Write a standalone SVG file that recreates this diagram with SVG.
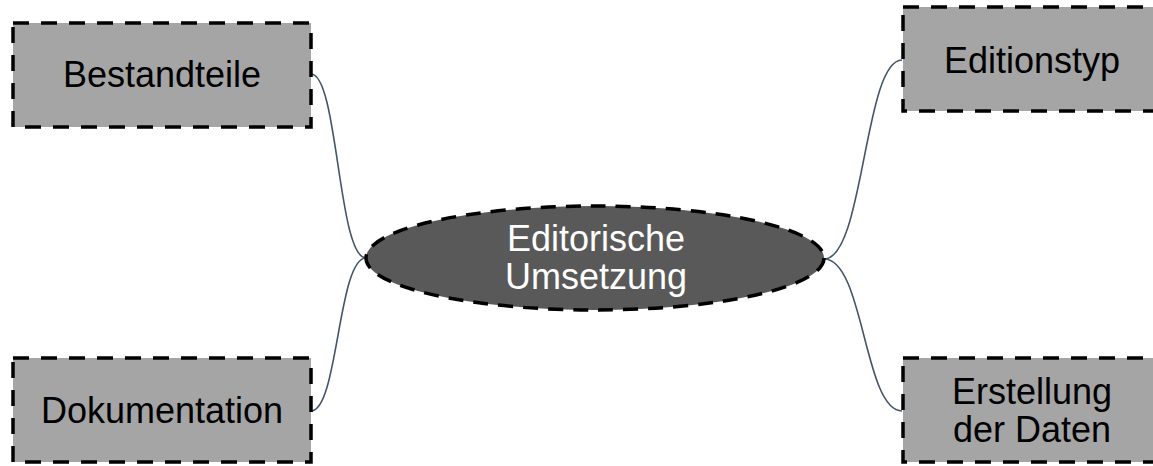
<svg xmlns="http://www.w3.org/2000/svg" width="1153" height="466" viewBox="0 0 1153 466">
<style>
.box{fill:#A5A5A5;stroke:#000;stroke-width:3.5;stroke-dasharray:16 12}
.hub{fill:#595959;stroke:#000;stroke-width:3.5;stroke-dasharray:15 10}
.lbl{font-family:"Liberation Sans",Arial,sans-serif;font-size:36px;text-anchor:middle;fill:#000}
.hubl{fill:#fff}
.con{fill:none;stroke:#44546A;stroke-width:1.6}
</style>
<rect width="1153" height="466" fill="#fff"/>
<g id="connectors">
<path class="con" d="M311 74 C338 74,338 258,366 258"/>
<path class="con" d="M311 411 C338 411,338 258,366 258"/>
<path class="con" d="M824 259 C864 259,864 60,902 60"/>
<path class="con" d="M824 259 C864 259,864 411,902 411"/>
</g>
<g id="hub">
<ellipse class="hub" cx="595" cy="258" rx="229" ry="52"/>
<text class="lbl hubl" x="596" y="251">Editorische</text>
<text class="lbl hubl" x="596" y="289">Umsetzung</text>
</g>
<g id="bestandteile">
<rect class="box" x="13" y="23" width="298" height="104"/>
<text class="lbl" x="162" y="87">Bestandteile</text>
</g>
<g id="dokumentation">
<rect class="box" x="13" y="358" width="298" height="104"/>
<text class="lbl" x="162" y="423">Dokumentation</text>
</g>
<g id="editionstyp">
<rect class="box" x="903" y="7" width="258" height="104"/>
<text class="lbl" x="1032" y="73">Editionstyp</text>
</g>
<g id="erstellung">
<rect class="box" x="903" y="358" width="258" height="104"/>
<text class="lbl" x="1032" y="404">Erstellung</text>
<text class="lbl" x="1032" y="442">der Daten</text>
</g>
</svg>
